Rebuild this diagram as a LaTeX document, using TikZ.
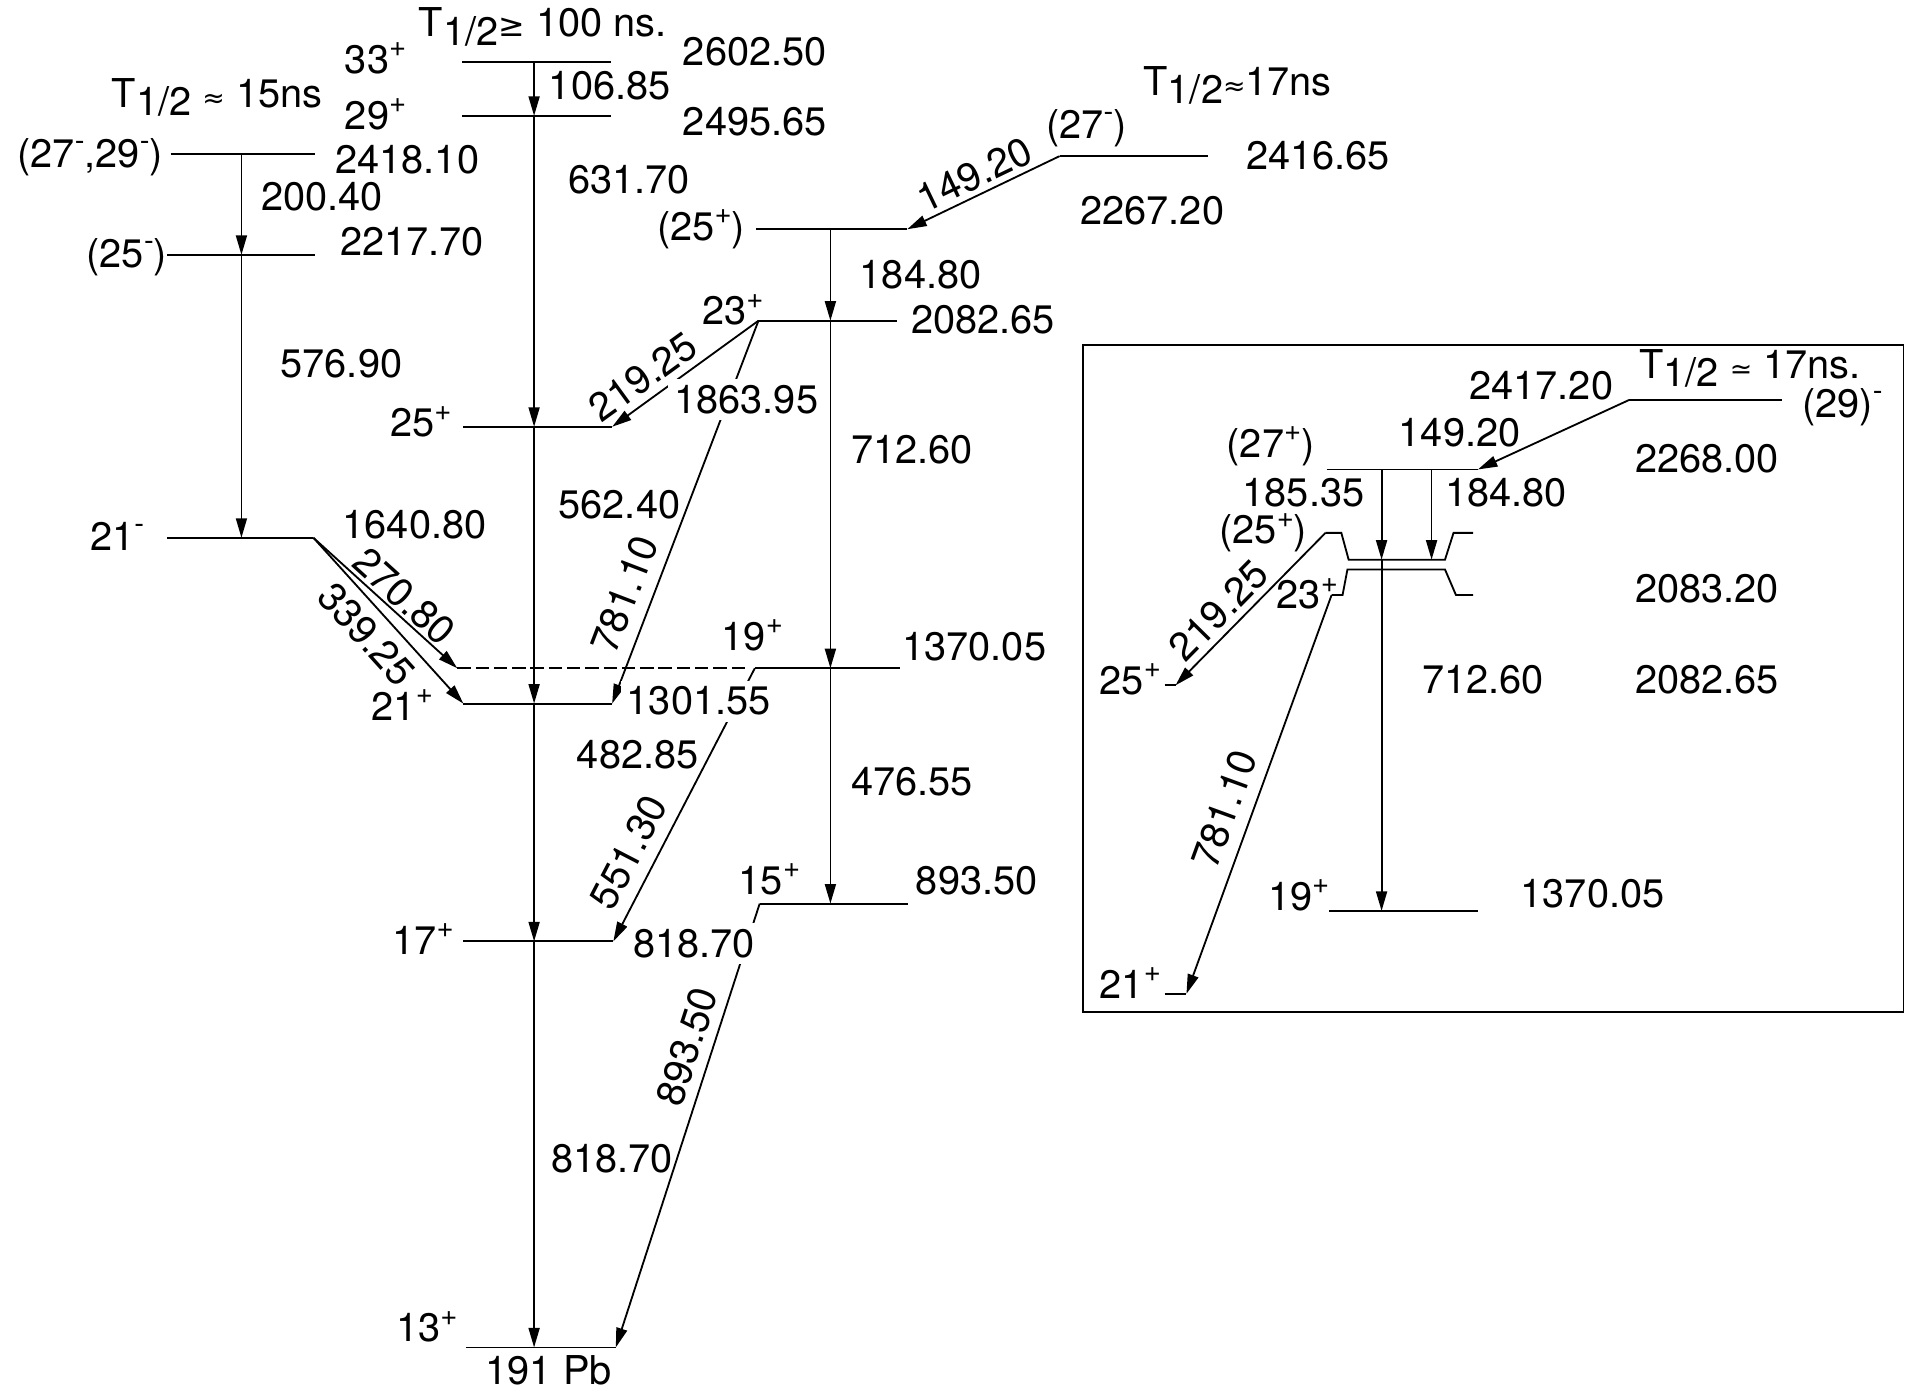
\documentclass[tikz,border=0pt]{standalone}
\usepackage{fontspec}
\setmainfont{TeX Gyre Heros}
\newfontfamily\symf{DejaVu Sans}
\usetikzlibrary{arrows.meta}
\newcommand{\spx}[1]{\raisebox{0.42em}{\fontsize{12}{12}\selectfont #1}}
\newcommand{\Thalf}{T\raisebox{-3.5pt}{1/2}}
\newcommand{\smsym}[1]{{\symf\fontsize{11}{11}\selectfont #1}}
\begin{document}
\begin{tikzpicture}[x=0.5pt,y=-0.5pt,
  every node/.style={inner sep=1pt},
  lvl/.style={line width=0.75pt},
  dlvl/.style={line width=0.75pt,dash pattern=on 5.5pt off 2pt},
  tr/.style={line width=0.75pt,-{Triangle[length=8pt,width=4.5pt]}},
  cov/.style={fill=white,inner sep=2.5pt},
  font=\fontsize{16.3}{19}\selectfont]
\useasboundingbox (0,0) rectangle (1568,1142);

% ---------- coordinates (main scheme) ----------
\coordinate (L2729a) at (140,126); \coordinate (L2729b) at (258,126);
\coordinate (L25ma) at (137,209);  \coordinate (L25mb) at (258,209);
\coordinate (L21ma) at (137,441);  \coordinate (L21mb) at (257,441);
\coordinate (T1) at (198,126); \coordinate (T2) at (198,209); \coordinate (T3) at (198,441);

\coordinate (L33a) at (379,51);   \coordinate (L33b) at (501,51);
\coordinate (L29a) at (379,95);   \coordinate (L29b) at (501,95);
\coordinate (L25a) at (380,350);  \coordinate (L25b) at (502,350);
\coordinate (L21pa) at (380,577); \coordinate (L21pb) at (502,577);
\coordinate (L17a) at (380,772);  \coordinate (L17b) at (503,772);
\coordinate (L13a) at (382,1105); \coordinate (L13b) at (505,1105);
\coordinate (V33) at (438,51);  \coordinate (V29) at (438,95);
\coordinate (V25) at (438,350); \coordinate (V21) at (438,577);
\coordinate (V17) at (438,772); \coordinate (V13) at (438,1105);

\coordinate (L27a) at (869,128);  \coordinate (L27b) at (991,128);
\coordinate (L25pa) at (620,188); \coordinate (L25pb) at (744,188);
\coordinate (L23a) at (622,263);  \coordinate (L23b) at (736,263);
\coordinate (L19d) at (375,548);  \coordinate (L19e) at (611,548);
\coordinate (L19a) at (619,548);  \coordinate (L19b) at (738,548);
\coordinate (L15a) at (623,741);  \coordinate (L15b) at (745,741);
\coordinate (W25) at (681,188); \coordinate (W23) at (681,263);
\coordinate (W19) at (681,548); \coordinate (W15) at (681,741);

% ---------- levels ----------
\draw[lvl] (L2729a) -- (L2729b);
\draw[lvl] (L25ma) -- (L25mb);
\draw[lvl] (L21ma) -- (L21mb);
\draw[lvl] (L33a) -- (L33b);
\draw[lvl] (L29a) -- (L29b);
\draw[lvl] (L25a) -- (L25b);
\draw[lvl] (L21pa) -- (L21pb);
\draw[lvl] (L17a) -- (L17b);
\draw[lvl] (L13a) -- (L13b);
\draw[lvl] (L27a) -- (L27b);
\draw[lvl] (L25pa) -- (L25pb);
\draw[lvl] (L23a) -- (L23b);
\draw[dlvl] (L19d) -- (L19e);
\draw[lvl] (L19a) -- (L19b);
\draw[lvl] (L15a) -- (L15b);

% ---------- transitions ----------
\draw[tr] (T1) -- (T2);
\draw[tr] (T2) -- (T3);
\draw[tr] (L21mb) -- node[sloped,above,pos=0.55,inner sep=1pt] (g270) {270.80} (L19d);
\draw[tr] (L21mb) -- node[sloped,below,pos=0.48,inner sep=4pt] (g339) {339.25} (L21pa);
\draw[tr] (V33) -- (V29);
\draw[tr] (V29) -- (V25);
\draw[tr] (V25) -- (V21);
\draw[tr] (V21) -- (V17);
\draw[tr] (V17) -- (V13);
\draw[tr] (L27a) -- node[sloped,above,pos=0.5,inner sep=2pt] (g149) {149.20} (L25pb);
\draw[tr] (W25) -- (W23);
\draw[tr] (W23) -- (W19);
\draw[tr] (W19) -- (W15);
\draw[tr] (L23a) -- node[sloped,above,pos=0.7,inner sep=3pt] (g219) {219.25} (L25b);
\draw[tr] (L23a) -- node[sloped,above,pos=0.74,inner sep=5pt] (g781) {781.10} (L21pb);
\draw[tr] (L19a) -- node[sloped,above,pos=0.72,inner sep=5pt] (g551) {551.30} (L17b);
\draw[tr] (L15a) -- node[sloped,above,pos=0.34,inner sep=4pt] (g893) {893.50} (L13b);

% ---------- labels (main) ----------
\node (th15) at (178,80) {\Thalf\ \smsym{≈} 15ns};
\node (s2729) at (74,129) {(27\spx{-},29\spx{-})};
\node (e2418) at (334,131) {2418.10};
\node (g200) at (264,161) {200.40};
\node (s25m) at (104,211) {(25\spx{-})};
\node (e2217) at (338,198) {2217.70};
\node (g576) at (280,298) {576.90};
\node (s21m) at (96,440) {21\spx{-}};
\node (e1640) at (340,430) {1640.80};

\node (s33) at (308,48) {33\spx{+}};
\node (th100) at (445,22) {\Thalf{\symf\fontsize{13}{13}\selectfont ≥} 100 ns.};
\node (e2602) at (619,42) {2602.50};
\node (s29) at (308,94) {29\spx{+}};
\node (g106) at (500,70) {106.85};
\node (e2495) at (619,100) {2495.65};
\node (g631) at (516,147) {631.70};

\node (th17) at (1015,70) {\Thalf\smsym{≈}17ns};
\node (s27m) at (891,105) {(27\spx{-})};
\node (e2416) at (1081,128) {2416.65};
\node (e2267) at (945,173) {2267.20};
\node (s25p) at (575,188) {(25\spx{+})};
\node (g184) at (755,225) {184.80};
\node (s23) at (601,254) {23\spx{+}};
\node (e2082) at (806,262) {2082.65};
\node[cov] (e1863) at (612,328) {1863.95};
\node (s25) at (345,346) {25\spx{+}};
\node (g712) at (748,369) {712.60};
\node (g562) at (508,414) {562.40};
\node (s19) at (617,521) {19\spx{+}};
\node (e1370) at (799,530) {1370.05};
\node (s21p) at (330,578) {21\spx{+}};
\node[cov] (e1301) at (573,575) {1301.55};
\node (g482) at (523,619) {482.85};
\node (g476) at (748,641) {476.55};
\node (s15) at (631,721) {15\spx{+}};
\node (e893) at (801,722) {893.50};
\node (s17) at (347,770) {17\spx{+}};
\node[cov] (e818) at (569,774) {818.70};
\node (g818) at (502,950) {818.70};
\node (s13) at (350,1088) {13\spx{+}};
\node (pb) at (450,1124) {191 Pb};

% ---------- inset ----------
\draw[lvl] (888,283) rectangle (1561,830);

\coordinate (I29a) at (1336,328); \coordinate (I29b) at (1461,328);
\coordinate (I27a) at (1088,385); \coordinate (I27b) at (1212,385);
\coordinate (IU1) at (1087,437);  \coordinate (IU6) at (1208,437);
\coordinate (IL1) at (1092,488);  \coordinate (IL6) at (1208,488);
\coordinate (I25a) at (955,562);  \coordinate (I25b) at (964,562);
\coordinate (I21a) at (955,815);  \coordinate (I21b) at (973,815);
\coordinate (I19a) at (1090,747); \coordinate (I19b) at (1212,747);
\coordinate (IA1) at (1133,385);  \coordinate (IA2) at (1133,459); \coordinate (IA3) at (1133,747);
\coordinate (IB1) at (1174,385);  \coordinate (IB2) at (1174,459);

\draw[lvl] (I29a) -- (I29b);
\draw[lvl] (I27a) -- (I27b);
\draw[lvl] (IU1) -- (1100,437) -- (1106,459) -- (1185,459) -- (1192,437) -- (IU6);
\draw[lvl] (IL1) -- (1101,488) -- (1105,467) -- (1185,467) -- (1194,488) -- (IL6);
\draw[lvl] (I25a) -- (I25b);
\draw[lvl] (I21a) -- (I21b);
\draw[lvl] (I19a) -- (I19b);

\draw[tr] (I29a) -- (I27b);
\draw[tr] (IA1) -- (IA2);
\draw[tr] (IB1) -- (IB2);
\draw[tr] (IA2) -- (IA3);
\draw[tr] (IU1) -- node[sloped,above,pos=0.61,inner sep=2.5pt] (ig219) {219.25} (I25b);
\draw[tr] (IL1) -- node[sloped,above,pos=0.56,inner sep=5pt] (ig781) {781.10} (I21b);

\node (ith17) at (1435,302) {\Thalf\ \smsym{≃} 17ns.};
\node (ie2417) at (1264,316) {2417.20};
\node (is29) at (1511,334) {(29)\spx{-}};
\node (ig149) at (1197,355) {149.20};
\node (is27) at (1042,366) {(27\spx{+})};
\node (ie2268) at (1400,376) {2268.00};
\node (ig185a) at (1069,404) {185.35};
\node (ig184) at (1235,404) {184.80};
\node (is25p) at (1036,437) {(25\spx{+})};
\node (is23) at (1072,487) {23\spx{+}};
\node (ie2083) at (1400,483) {2083.20};
\node (is25) at (927,557) {25\spx{+}};
\node (ig712) at (1216,557) {712.60};
\node (ie2082) at (1400,557) {2082.65};
\node (is19) at (1065,734) {19\spx{+}};
\node (ie1370) at (1306,733) {1370.05};
\node (is21) at (927,806) {21\spx{+}};
\end{tikzpicture}
\end{document}
